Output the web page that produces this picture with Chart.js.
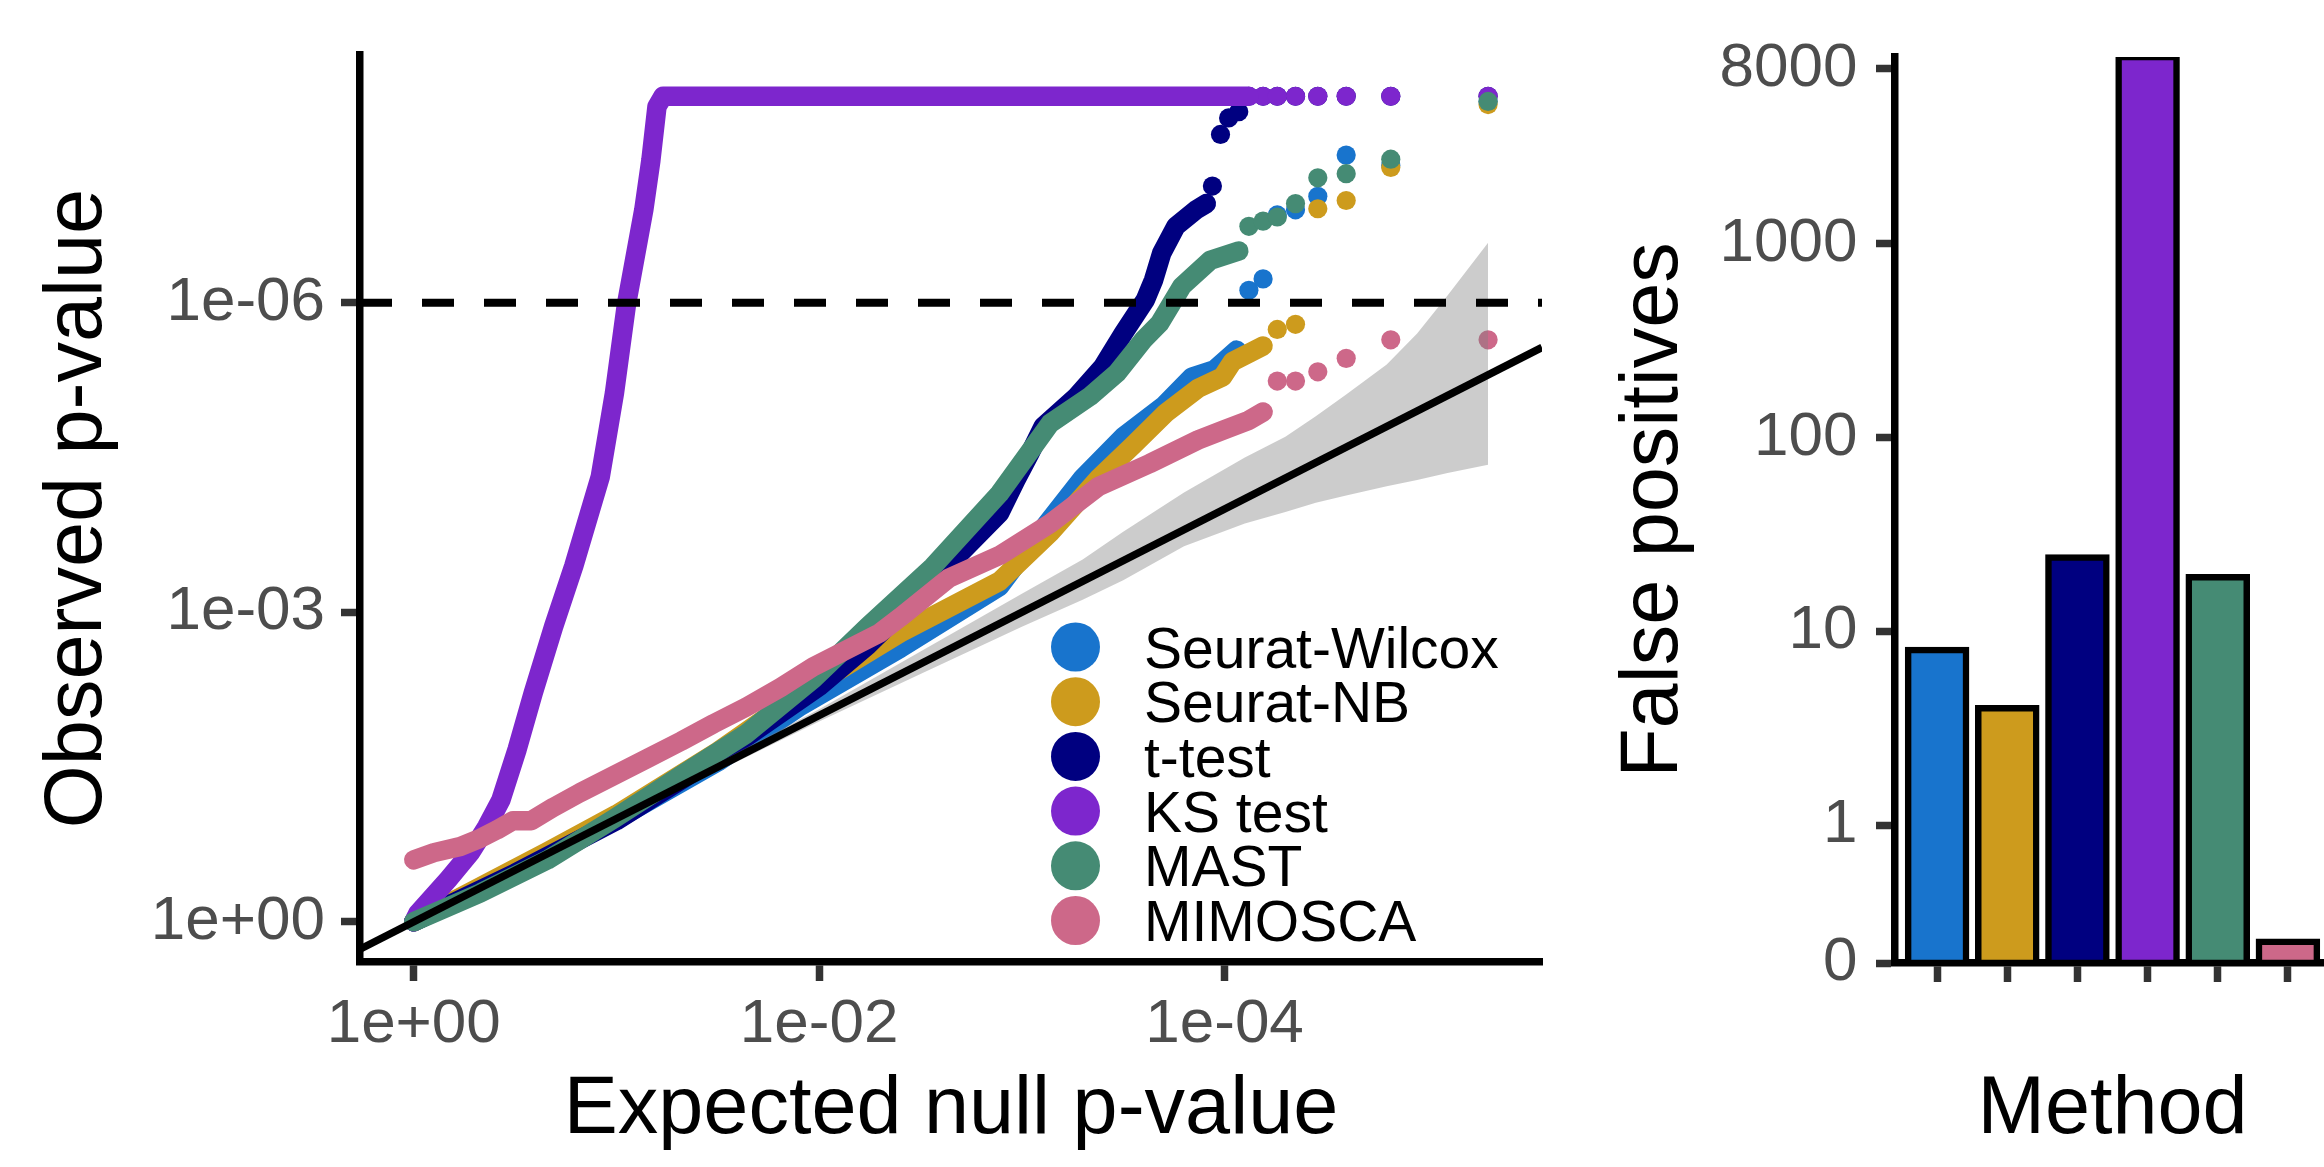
<!DOCTYPE html>
<html>
<head>
<meta charset="utf-8">
<script src="https://cdn.jsdelivr.net/npm/chart.js@4.4.1/dist/chart.umd.min.js"></script>
<style>
  html, body { margin: 0; padding: 0; background: #fff; overflow: hidden; }
  #qq { position: absolute; left: 0; top: 0; }
  #fp { position: absolute; left: 1560px; top: 0; }
</style>
</head>
<body>
<canvas id="qq" width="1560" height="1167"></canvas>
<canvas id="fp" width="776" height="1167"></canvas>
<script>
const FONT = '"Liberation Sans", Arial, Helvetica, sans-serif';

const methods = ['Seurat-Wilcox', 'Seurat-NB', 't-test', 'KS test', 'MAST', 'MIMOSCA'];
const methodColors = ['#1874CD', '#CD9B1D', '#000080', '#7D26CD', '#458B74', '#CD6889'];

// QQ plot, both axes are -log10(p)
const xTickValues = [0, 2, 4];
const xTickLabels = ['1e+00', '1e-02', '1e-04'];
const yTickValues = [0, 3, 6];
const yTickLabels = ['1e+00', '1e-03', '1e-06'];
const thresholdY = 6;

// dense part of each curve (x = expected, y = observed)
const wilcoxCurveX = [0, 0.66, 1.0, 1.5, 1.9, 2.4, 2.89, 3.1, 3.3, 3.5, 3.7, 3.84, 3.95, 4.06];
const wilcoxCurveY = [0, 0.64, 0.99, 1.55, 2.08, 2.65, 3.25, 3.8, 4.3, 4.7, 5.0, 5.28, 5.35, 5.54];
const nbCurveX = [0, 0.66, 1.0, 1.5, 1.9, 2.4, 2.89, 3.14, 3.38, 3.55, 3.71, 3.87, 3.99, 4.04, 4.12, 4.19];
const nbCurveY = [0, 0.68, 1.04, 1.65, 2.2, 2.8, 3.3, 3.77, 4.3, 4.62, 4.93, 5.17, 5.28, 5.43, 5.51, 5.58];
const ttestCurveX = [0, 0.5, 1.0, 1.5, 2.0, 2.24, 2.5, 2.72, 2.89, 2.97, 3.04, 3.105, 3.27, 3.4, 3.5, 3.61, 3.65, 3.69, 3.76, 3.86, 3.91];
const ttestCurveY = [0, 0.47, 0.98, 1.6, 2.28, 2.68, 3.18, 3.62, 3.96, 4.28, 4.54, 4.8, 5.09, 5.38, 5.7, 6.03, 6.22, 6.48, 6.74, 6.9, 6.96];
const ksCurveX = [0, 0.02, 0.17, 0.28, 0.36, 0.43, 0.51, 0.59, 0.69, 0.79, 0.92, 0.99, 1.05, 1.135, 1.17, 1.2, 1.23, 4.12];
const ksCurveY = [0, 0.08, 0.41, 0.67, 0.92, 1.18, 1.67, 2.22, 2.86, 3.45, 4.31, 5.12, 5.99, 6.9, 7.38, 7.9, 8.0, 8.0];
const mastCurveX = [0, 0.33, 0.66, 0.99, 1.32, 1.64, 1.97, 2.24, 2.56, 2.89, 3.14, 3.335, 3.47, 3.6, 3.68, 3.79, 3.93, 4.07];
const mastCurveY = [0, 0.28, 0.6, 1.0, 1.42, 1.82, 2.35, 2.86, 3.44, 4.15, 4.83, 5.09, 5.32, 5.64, 5.8, 6.16, 6.41, 6.5];
const mimoscaCurveX = [0, 0.1, 0.23, 0.33, 0.41, 0.49, 0.58, 0.69, 0.82, 0.99, 1.15, 1.32, 1.48, 1.64, 1.81, 1.97, 2.14, 2.3, 2.4, 2.64, 2.89, 3.14, 3.38, 3.63, 3.87, 4.0, 4.12, 4.19];
const mimoscaCurveY = [0.6, 0.67, 0.73, 0.81, 0.89, 0.98, 0.98, 1.11, 1.25, 1.42, 1.58, 1.75, 1.92, 2.08, 2.27, 2.47, 2.64, 2.8, 2.95, 3.33, 3.55, 3.86, 4.22, 4.44, 4.67, 4.77, 4.86, 4.94];

// sparse tail, one dot per gene
const wilcoxDotsX = [4.12, 4.19, 4.26, 4.35, 4.46, 4.6, 4.82, 5.3];
const wilcoxDotsY = [6.12, 6.23, 6.85, 6.9, 7.03, 7.43, 7.33, 7.95];
const nbDotsX = [4.26, 4.35, 4.46, 4.6, 4.82, 5.3];
const nbDotsY = [5.74, 5.79, 6.91, 6.99, 7.31, 7.92];
const ttestDotsX = [3.94, 3.98, 4.02, 4.07, 4.12, 4.19, 4.26, 4.35, 4.46, 4.6, 4.82, 5.3];
const ttestDotsY = [7.13, 7.63, 7.79, 7.85, 8, 8, 8, 8, 8, 8, 8, 8];
const ksDotsX = [4.19, 4.26, 4.35, 4.46, 4.6, 4.82, 5.3];
const ksDotsY = [8, 8, 8, 8, 8, 8, 8];
const mastDotsX = [4.12, 4.19, 4.26, 4.35, 4.46, 4.6, 4.82, 5.3];
const mastDotsY = [6.74, 6.79, 6.83, 6.96, 7.21, 7.25, 7.39, 7.95];
const mimoscaDotsX = [4.26, 4.35, 4.46, 4.6, 4.82, 5.3];
const mimoscaDotsY = [5.24, 5.24, 5.33, 5.46, 5.64, 5.64];

// null confidence band
const bandX = [0, 1, 2, 2.5, 3, 3.3, 3.5, 3.8, 4.1, 4.3, 4.45, 4.6, 4.8, 4.95, 5.1, 5.3];
const bandUpper = [0, 1.02, 2.06, 2.62, 3.18, 3.51, 3.78, 4.16, 4.5, 4.7, 4.9, 5.11, 5.4, 5.7, 6.07, 6.58];
const bandLower = [0, 0.98, 1.94, 2.4, 2.86, 3.12, 3.31, 3.64, 3.86, 3.97, 4.06, 4.13, 4.22, 4.28, 4.35, 4.43];

// false positives per method
const fpCounts = [8, 4, 24, 9200, 19, 0];
const fpTickValues = [0.194, 1, 10, 100, 1000, 8000];
const fpTickLabels = ['0', '1', '10', '100', '1000', '8000'];
const zeroStub = 0.25; // zero counts drawn as a small stub

const xMin = -0.265, xMax = 5.566, yMin = -0.39, yMax = 8.4;

const curveX = [wilcoxCurveX, nbCurveX, ttestCurveX, ksCurveX, mastCurveX, mimoscaCurveX];
const curveY = [wilcoxCurveY, nbCurveY, ttestCurveY, ksCurveY, mastCurveY, mimoscaCurveY];
const dotsX = [wilcoxDotsX, nbDotsX, ttestDotsX, ksDotsX, mastDotsX, mimoscaDotsX];
const dotsY = [wilcoxDotsY, nbDotsY, ttestDotsY, ksDotsY, mastDotsY, mimoscaDotsY];

const pts = (xs, ys) => xs.map((x, i) => ({ x: x, y: ys[i] }));

const qqDatasets = [];
methods.forEach((name, i) => {
  const order = 90 - i * 10;
  qqDatasets.push({
    label: name, data: pts(curveX[i], curveY[i]), order: order,
    borderColor: methodColors[i], borderWidth: 19.5,
    borderCapStyle: 'round', borderJoinStyle: 'round',
    pointRadius: 0, fill: false
  });
  qqDatasets.push({
    label: name + ' tail', data: pts(dotsX[i], dotsY[i]), order: order,
    showLine: false, pointRadius: 9.6, pointBorderWidth: 0,
    pointBackgroundColor: methodColors[i], fill: false
  });
});
qqDatasets.push({
  label: 'band upper', data: pts(bandX, bandUpper), order: 30,
  borderWidth: 0, pointRadius: 0, fill: false
});
qqDatasets.push({
  label: 'band lower', data: pts(bandX, bandLower), order: 30,
  borderWidth: 0, pointRadius: 0, fill: '-1',
  backgroundColor: 'rgba(127,127,127,0.4)'
});
qqDatasets.push({
  label: 'identity', data: [{ x: xMin, y: xMin }, { x: xMax, y: xMax }], order: 20,
  borderColor: '#000', borderWidth: 7.5, pointRadius: 0, fill: false
});
qqDatasets.push({
  label: 'threshold', data: [{ x: xMin, y: thresholdY }, { x: xMax, y: thresholdY }], order: 10,
  borderColor: '#000', borderWidth: 8, borderDash: [32, 30], pointRadius: 0, fill: false
});

const qqLegend = {
  id: 'qqLegend',
  afterDraw(chart) {
    const ctx = chart.ctx;
    ctx.save();
    ctx.font = '57px ' + FONT;
    ctx.textBaseline = 'alphabetic';
    ctx.textAlign = 'left';
    methods.forEach((name, i) => {
      const y = 647 + i * 54.7;
      ctx.fillStyle = methodColors[i];
      ctx.beginPath();
      ctx.arc(1075.5, y, 24.5, 0, Math.PI * 2);
      ctx.fill();
      ctx.fillStyle = '#000';
      ctx.fillText(name, 1144, y + 20.5);
    });
    ctx.restore();
  }
};

const tickFont = { family: FONT, size: 62, lineHeight: 1 };
const titleFont = { family: FONT, size: 81, lineHeight: 1 };
const tickGrid = { display: true, drawOnChartArea: false, drawTicks: true, tickLength: 19, tickWidth: 7.5, tickColor: '#333333', offset: false };
const axisBorder = { display: true, color: '#000', width: 7.5 };

new Chart(document.getElementById('qq'), {
  type: 'line',
  data: { datasets: qqDatasets },
  plugins: [qqLegend],
  options: {
    responsive: false, animation: false, devicePixelRatio: 1, events: [],
    layout: { padding: { top: 55, right: 18, left: 0, bottom: 0 } },
    elements: { line: { tension: 0 } },
    plugins: {
      legend: { display: false }, tooltip: { enabled: false },
      filler: { drawTime: 'beforeDatasetDraw', propagate: false }
    },
    scales: {
      x: {
        type: 'linear', min: xMin, max: xMax, offset: false,
        afterBuildTicks: s => { s.ticks = xTickValues.map(v => ({ value: v })); },
        afterFit: s => { s.height = 205; },
        ticks: { autoSkip: false, maxRotation: 0, padding: 12.5, color: '#4D4D4D', font: tickFont,
                 callback: (v, i) => xTickLabels[i] },
        grid: tickGrid, border: axisBorder,
        title: { display: true, text: 'Expected null p-value', color: '#000', font: titleFont,
                 padding: { top: 0, bottom: 15.6 } }
      },
      y: {
        type: 'linear', min: yMin, max: yMax,
        afterBuildTicks: s => { s.ticks = yTickValues.map(v => ({ value: v })); },
        afterFit: s => { s.width = 360; },
        ticks: { autoSkip: false, padding: 16, color: '#4D4D4D', font: tickFont,
                 callback: (v, i) => yTickLabels[i] },
        grid: tickGrid, border: axisBorder,
        title: { display: true, text: 'Observed p-value', color: '#000', font: titleFont,
                 padding: { top: 38.4, bottom: 0 } }
      }
    }
  }
});

const bars = fpCounts.map((v, i) => ({ x: i + 1, y: v > 0 ? v : zeroStub }));

new Chart(document.getElementById('fp'), {
  type: 'bar',
  data: {
    datasets: [{
      data: bars, backgroundColor: methodColors, borderColor: '#000', borderWidth: 6.5,
      borderSkipped: false, inflateAmount: 3.25, categoryPercentage: 1, barPercentage: 0.827
    }]
  },
  options: {
    responsive: false, animation: false, devicePixelRatio: 1, events: [],
    layout: { padding: { top: 57, right: 6, left: 0, bottom: 0 } },
    plugins: { legend: { display: false }, tooltip: { enabled: false } },
    scales: {
      x: {
        type: 'linear', min: 0.4, max: methods.length + 0.6, offset: false,
        afterBuildTicks: s => { s.ticks = methods.map((m, i) => ({ value: i + 1 })); },
        afterFit: s => { s.height = 204; },
        ticks: { autoSkip: false, maxRotation: 0, font: tickFont, callback: () => '' },
        grid: tickGrid, border: axisBorder,
        title: { display: true, text: 'Method', color: '#000', font: titleFont,
                 padding: { top: 0, bottom: 15.6 } }
      },
      y: {
        type: 'logarithmic', min: fpTickValues[0], max: Math.max(...fpCounts),
        afterBuildTicks: s => { s.ticks = fpTickValues.map(v => ({ value: v })); },
        afterFit: s => { s.width = 335; },
        ticks: { autoSkip: false, padding: 18.5, color: '#4D4D4D', font: tickFont,
                 callback: (v, i) => fpTickLabels[i] },
        grid: tickGrid, border: axisBorder,
        title: { display: true, text: 'False positives', color: '#000', font: titleFont,
                 padding: { top: 54.4, bottom: 0 } }
      }
    }
  }
});
</script>
</body>
</html>
